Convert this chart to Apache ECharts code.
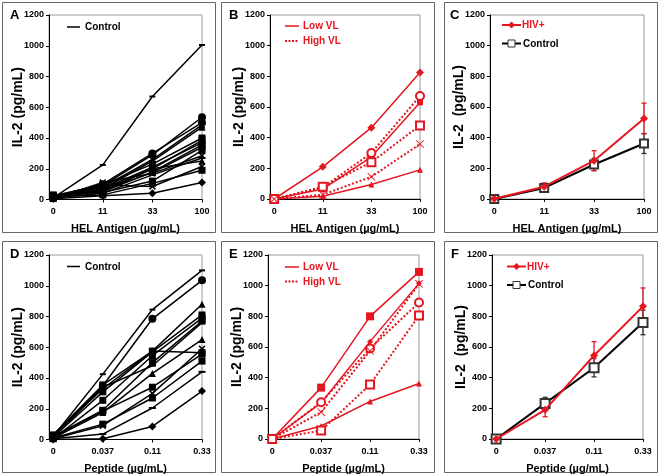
<!DOCTYPE html>
<html><head><meta charset="utf-8">
<script src="https://cdn.jsdelivr.net/npm/echarts@6/dist/echarts.min.js"></script>
<style>html,body{margin:0;padding:0;background:#fff}#c{width:661px;height:476px}</style>
</head><body><div id="c"></div><script>
// ---------- data ----------
const helLabels = ['0', '11', '33', '100'];
const pepLabels = ['0', '0.037', '0.11', '0.33'];
const yTicks = [0, 200, 400, 600, 800, 1000, 1200];

// Panel A (HEL antigen, individual donors)
const aControl = [10, 225, 670, 1005];
const aDonors = [
  [10, 90, 290, 535],
  [20, 100, 300, 500],
  [15, 80, 260, 485],
  [10, 70, 250, 470],
  [25, 95, 230, 400],
  [10, 60, 200, 385],
  [5, 70, 210, 370],
  [20, 50, 180, 355],
  [10, 60, 175, 340],
  [5, 110, 170, 285],
  [10, 40, 160, 270],
  [15, 55, 200, 250],
  [30, 45, 120, 320],
  [5, 95, 85, 215],
  [20, 30, 105, 190],
  [5, 25, 40, 110]
];
const aMarkers = ['circle','circle','triangle','triangle','rect','rect','dash','rect','rect','x','dash','triangle','rect','x','rect','diamond'];

// Panel B (HEL antigen, HIV+ by viral load)
const bLowDiamond = [0, 210, 465, 825];
const bLowSquare = [0, 65, 275, 630];
const bLowTriangle = [0, 18, 95, 190];
const bHighCircle = [0, 75, 300, 672];
const bHighSquare = [0, 80, 240, 480];
const bHighX = [0, 28, 145, 358];

// Panel C (HEL antigen, means)
const cHiv = [2, 80, 250, 525];
const cHivErr = [0, 25, 65, 100];
const cControl = [0, 72, 225, 362];
const cControlErr = [0, 20, 40, 65];

// Panel D (peptide, individual donors)
const dControl = [20, 425, 845, 1100];
const dDonors = [
  [10, 350, 785, 1035],
  [25, 330, 575, 880],
  [15, 310, 570, 810],
  [5, 255, 545, 790],
  [20, 190, 500, 770],
  [30, 340, 480, 760],
  [10, 175, 430, 650],
  [5, 90, 300, 590],
  [30, 355, 575, 565],
  [15, 185, 340, 555],
  [10, 100, 270, 510],
  [5, 35, 205, 440],
  [0, 5, 85, 315]
];
const dMarkers = ['circle','triangle','rect','rect','rect','dash','triangle','x','rect','rect','rect','dash','diamond'];

// Panel E (peptide, HIV+ by viral load)
const eLowSquare = [0, 335, 800, 1090];
const eLowDiamond = [0, 235, 635, 1015];
const eLowTriangle = [0, 85, 245, 362];
const eHighCircle = [0, 240, 590, 890];
const eHighX = [0, 175, 575, 1012];
const eHighSquare = [0, 55, 355, 805];

// Panel F (peptide, means)
const fHiv = [0, 190, 545, 865];
const fHivErr = [0, 45, 90, 120];
const fControl = [0, 232, 465, 760];
const fControlErr = [0, 40, 60, 80];

// ---------- styling ----------
const FONT = 'Liberation Sans, Arial, sans-serif';
const RED = '#e4161f';
const BLACK = '#000';
const GREYK = '#333';
const X_PATH = 'path://M0,1.6L1.6,0L5,3.4L8.4,0L10,1.6L6.6,5L10,8.4L8.4,10L5,6.6L1.6,10L0,8.4L3.4,5Z';
const X_THIN = 'path://M0,0.8L0.8,0L5,4.2L9.2,0L10,0.8L5.8,5L10,9.2L9.2,10L5,5.8L0.8,10L0,9.2L4.2,5Z';

function sym(m) {
  if (m === 'x') return {symbol: X_PATH, symbolSize: 7};
  if (m === 'dash') return {symbol: 'rect', symbolSize: [7, 2]};
  if (m === 'circle') return {symbol: 'circle', symbolSize: 8};
  if (m === 'rect') return {symbol: 'rect', symbolSize: 7};
  if (m === 'diamond') return {symbol: 'diamond', symbolSize: 8};
  return {symbol: m, symbolSize: 7};
}
const pts = arr => arr.map((v, i) => [i, v]);

const grids = [
  {left: 49, top: 15, width: 153, height: 184.5},
  {left: 270, top: 15, width: 150, height: 184},
  {left: 490, top: 15, width: 154, height: 184},
  {left: 49, top: 255, width: 153, height: 184.5},
  {left: 268, top: 255, width: 151, height: 184},
  {left: 492, top: 255, width: 151, height: 184}
];

function xAxisCfg(i, labels, name) {
  return {
    type: 'value', gridIndex: i, min: -0.085, max: 3,
    name: name, nameLocation: 'middle', nameGap: 24, nameMoveOverlap: false,
    nameTextStyle: {fontWeight: 'bold', fontSize: 11, color: '#000', fontFamily: FONT},
    axisLine: {onZero: false, lineStyle: {color: '#000', width: 1}},
    axisTick: {customValues: [0, 1, 2, 3], length: 3, lineStyle: {color: '#000'}},
    axisLabel: {customValues: [0, 1, 2, 3], formatter: v => labels[Math.round(v)],
      fontWeight: 'bold', fontSize: 9, color: '#000', fontFamily: FONT, margin: 8},
    splitLine: {show: false}
  };
}
function yAxisCfg(i, name) {
  return {
    type: 'value', gridIndex: i, min: yTicks[0], max: yTicks[yTicks.length - 1], interval: 200,
    name: name, nameLocation: 'middle', nameGap: 24, nameMoveOverlap: false,
    nameTextStyle: {fontWeight: 'bold', fontSize: 14, color: '#000', fontFamily: FONT},
    axisLine: {show: true, onZero: false, lineStyle: {color: '#000', width: 1}},
    axisTick: {show: true, length: 3, lineStyle: {color: '#000'}},
    axisLabel: {formatter: v => String(v), fontWeight: 'bold', fontSize: 9, color: '#000', fontFamily: FONT, margin: 5},
    splitLine: {show: false}
  };
}

const series = [];
function line(gi, data, color, m, opts) {
  opts = opts || {};
  const s = sym(m);
  series.push(Object.assign({
    type: 'line', xAxisIndex: gi, yAxisIndex: gi, data: pts(data),
    symbol: s.symbol, symbolSize: s.symbolSize, showSymbol: true,
    lineStyle: {color: color, width: opts.width || 1.5, type: opts.dash ? 'dotted' : 'solid'},
    itemStyle: {color: color, borderColor: color, borderWidth: opts.bw || 0},
    animation: false, silent: true, z: opts.z || 2
  }, opts.extra || {}));
}
function errBars(gi, vals, errs, color) {
  series.push({
    type: 'custom', xAxisIndex: gi, yAxisIndex: gi,
    data: vals.map((v, i) => [i, v, errs[i]]),
    encode: {x: 0, y: 1},
    renderItem: function (params, api) {
      const x = api.value(0), v = api.value(1), e = api.value(2);
      if (!e) return null;
      const t = api.coord([x, v + e]), b = api.coord([x, v - e]);
      const st = {stroke: color, lineWidth: 1.3};
      return {type: 'group', children: [
        {type: 'line', shape: {x1: t[0], y1: t[1], x2: b[0], y2: b[1]}, style: st},
        {type: 'line', shape: {x1: t[0] - 2.5, y1: t[1], x2: t[0] + 2.5, y2: t[1]}, style: st},
        {type: 'line', shape: {x1: b[0] - 2.5, y1: b[1], x2: b[0] + 2.5, y2: b[1]}, style: st}
      ]};
    },
    animation: false, silent: true, z: 1
  });
}

// A
aDonors.forEach((d, k) => line(0, d, BLACK, aMarkers[k]));
line(0, aControl, BLACK, 'dash', {extra: {symbolSize: [6, 2]}});
// B
line(1, bLowDiamond, RED, 'diamond');
line(1, bLowSquare, RED, 'rect', {extra: {symbolSize: 6}});
line(1, bLowTriangle, RED, 'triangle', {extra: {symbolSize: 6}});
line(1, bHighCircle, RED, 'circle', {dash: true, width: 2, bw: 1, extra: {symbol: 'emptyCircle', symbolSize: 8}});
line(1, bHighSquare, RED, 'rect', {dash: true, width: 2, bw: 1, extra: {symbol: 'emptyRect', symbolSize: 8}});
line(1, bHighX, RED, 'x', {dash: true, width: 2, extra: {symbol: X_THIN, symbolSize: 8}});
// C
errBars(2, cControl, cControlErr, GREYK);
errBars(2, cHiv, cHivErr, RED);
line(2, cControl, BLACK, 'rect', {width: 2, extra: {symbol: 'emptyRect', symbolSize: 8, itemStyle: {color: GREYK, borderColor: GREYK, borderWidth: 1}}});
line(2, cHiv, RED, 'diamond', {width: 2, z: 3});
// D
dDonors.forEach((d, k) => line(3, d, BLACK, dMarkers[k]));
line(3, dControl, BLACK, 'dash', {extra: {symbolSize: [6, 2]}});
// E
line(4, eLowSquare, RED, 'rect', {extra: {symbolSize: 8}});
line(4, eLowDiamond, RED, 'diamond', {extra: {symbolSize: 6}});
line(4, eLowTriangle, RED, 'triangle', {extra: {symbolSize: 6}});
line(4, eHighCircle, RED, 'circle', {dash: true, width: 2, bw: 1, extra: {symbol: 'emptyCircle', symbolSize: 8}});
line(4, eHighX, RED, 'x', {dash: true, width: 2, extra: {symbol: X_THIN, symbolSize: 8}});
line(4, eHighSquare, RED, 'rect', {dash: true, width: 2, bw: 1, extra: {symbol: 'emptyRect', symbolSize: 8}});
// F
errBars(5, fControl, fControlErr, GREYK);
errBars(5, fHiv, fHivErr, RED);
line(5, fControl, BLACK, 'rect', {width: 2, extra: {symbol: 'emptyRect', symbolSize: 9, itemStyle: {color: GREYK, borderColor: GREYK, borderWidth: 1}}});
line(5, fHiv, RED, 'diamond', {width: 2, z: 3});

// ---------- graphics: panel frames, letters, legends ----------
const boxes = [[2, 2], [221, 2], [444, 2], [2, 241], [221, 241], [444, 241]];
const letters = ['A', 'B', 'C', 'D', 'E', 'F'];
const letterPos = [[10, 15], [229, 15], [450, 15], [10, 254], [229, 254], [451, 254]];
const g = [];
boxes.forEach((b, i) => {
  g.push({type: 'rect', shape: {x: b[0] + 0.5, y: b[1] + 0.5, width: 213, height: i < 3 ? 230 : 231},
    style: {fill: 'none', stroke: '#666', lineWidth: 1}, silent: true, z: 0});
  g.push({type: 'text', x: letterPos[i][0], y: letterPos[i][1],
    style: {text: letters[i], font: 'bold 13px ' + FONT, fill: '#000', verticalAlign: 'middle'}});
});
function legLine(x1, x2, y, color, dotted, w) {
  g.push({type: 'line', shape: {x1: x1, y1: y, x2: x2, y2: y},
    style: {stroke: color, lineWidth: w || 1.5, lineDash: dotted ? [2, 1.5] : null}, z: 10});
}
function legText(x, y, txt, color) {
  g.push({type: 'text', x: x, y: y, z: 10,
    style: {text: txt, font: 'bold 10px ' + FONT, fill: color, verticalAlign: 'middle'}});
}
// A, D
legLine(67, 80, 27, BLACK); legText(85, 27.5, 'Control', BLACK);
legLine(67, 80, 266.5, BLACK); legText(85, 267, 'Control', BLACK);
// B, E
[[26, 41], [267, 281.5]].forEach(p => {
  legLine(285, 299, p[0], RED); legText(303, p[0] + 0.5, 'Low VL', RED);
  legLine(285, 299, p[1], RED, true, 2); legText(303, p[1] + 0.5, 'High VL', RED);
});
// C, F
[[502, 25, 43.5], [507, 266.5, 285]].forEach(p => {
  const x = p[0];
  legLine(x, x + 19, p[1], RED, false, 2);
  g.push({type: 'polygon', shape: {points: [[x + 9.5, p[1] - 3.5], [x + 13, p[1]], [x + 9.5, p[1] + 3.5], [x + 6, p[1]]]}, style: {fill: RED}, z: 11});
  legText(x + 20, p[1] + 0.5, 'HIV+', RED);
  legLine(x, x + 19, p[2], BLACK, false, 2);
  g.push({type: 'rect', shape: {x: x + 6, y: p[2] - 3.5, width: 7, height: 7}, style: {fill: '#fff', stroke: GREYK, lineWidth: 1}, z: 11});
  legText(x + 21, p[2] + 0.5, 'Control', BLACK);
});

const option = {
  backgroundColor: '#fff',
  animation: false,
  grid: grids.map(gr => Object.assign({show: true, borderColor: '#999', borderWidth: 1, backgroundColor: 'transparent', containLabel: false}, gr)),
  xAxis: [
    xAxisCfg(0, helLabels, 'HEL Antigen (µg/mL)'),
    xAxisCfg(1, helLabels, 'HEL Antigen (µg/mL)'),
    xAxisCfg(2, helLabels, 'HEL Antigen (µg/mL)'),
    xAxisCfg(3, pepLabels, 'Peptide (µg/mL)'),
    xAxisCfg(4, pepLabels, 'Peptide (µg/mL)'),
    xAxisCfg(5, pepLabels, 'Peptide (µg/mL)')
  ],
  yAxis: [
    yAxisCfg(0, 'IL-2 (pg/mL)'),
    yAxisCfg(1, 'IL-2 (pg/mL)'),
    yAxisCfg(2, 'IL-2  (pg/mL)'),
    yAxisCfg(3, 'IL-2 (pg/mL)'),
    yAxisCfg(4, 'IL-2 (pg/mL)'),
    yAxisCfg(5, 'IL-2  (pg/mL)')
  ],
  series: series,
  graphic: g
};
const chart = echarts.init(document.getElementById('c'), null, {renderer: 'canvas'});
chart.setOption(option);
</script></body></html>
